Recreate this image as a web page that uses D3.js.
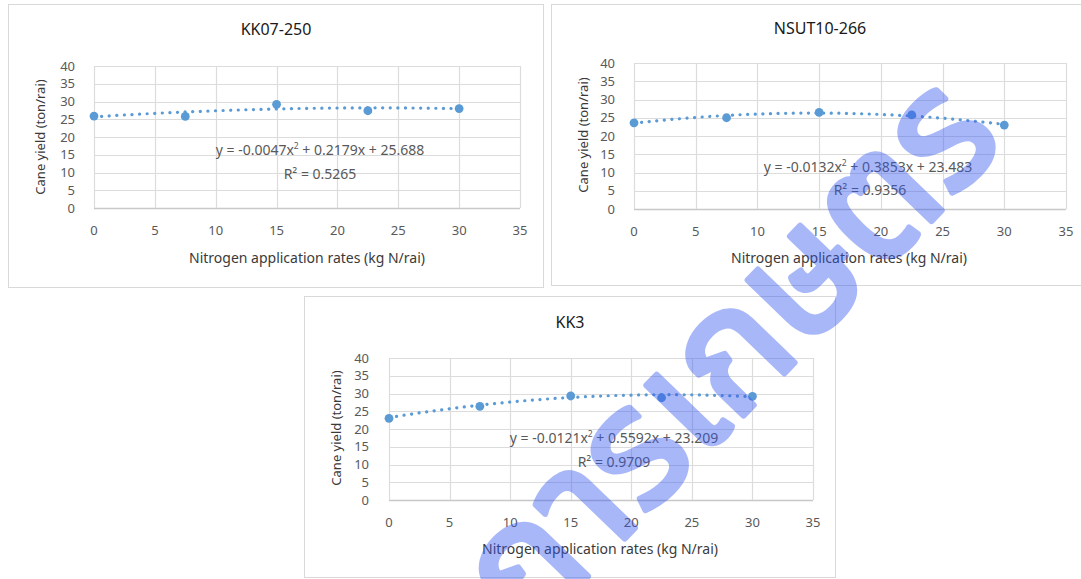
<!DOCTYPE html>
<html>
<head>
<meta charset="utf-8">
<script src="https://cdn.jsdelivr.net/npm/d3@7"></script>
<style>
  body { margin: 0; background: #fff; }
  svg { display: block; font-family: "Noto Sans", "Open Sans", sans-serif; }
</style>
</head>
<body>
<div id="chart"></div>
<script>
// nitrogen rates (kg N/rai)
var xRates = [0, 7.5, 15, 22.5, 30];

// cane yield (ton/rai) per variety
var yKK07 = [25.9, 25.8, 29.2, 27.4, 28.0];
var yNSUT = [23.6, 25.0, 26.5, 25.8, 23.0];
var yKK3  = [23.0, 26.4, 29.3, 28.8, 29.2];

var titles = ["KK07-250", "NSUT10-266", "KK3"];

// quadratic trendline coefficients [a, b, c] : y = a x^2 + b x + c
var coefKK07 = [-0.0047, 0.2179, 25.688];
var coefNSUT = [-0.0132, 0.3853, 23.483];
var coefKK3  = [-0.0121, 0.5592, 23.209];

var eqParts = [
  ["y = -0.0047x", " + 0.2179x + 25.688"],
  ["y = -0.0132x", " + 0.3853x + 23.483"],
  ["y = -0.0121x", " + 0.5592x + 23.209"]
];
var r2Labels = ["R² = 0.5265", "R² = 0.9356", "R² = 0.9709"];

var xTicks = [0, 5, 10, 15, 20, 25, 30, 35];
var yTicks = [0, 5, 10, 15, 20, 25, 30, 35, 40];

var xTitle = "Nitrogen application rates (kg N/rai)";
var yTitle = "Cane yield (ton/rai)";
var watermark = "การเกษตร";

var W = 1081, H = 579;
var svg = d3.select("#chart").append("svg").attr("width", W).attr("height", H);

// panel boxes and plot areas
var panels = [
  {box: [8, 4, 535, 283], plot: [94, 66, 520, 208], title: [276, 29], ylab: 75, xlab: 230, xt: [307, 258], yt: [40, 137],
   eq: [320, 150], r2: [320, 174], ys: yKK07, coef: coefKK07},
  {box: [551, 4, 540, 281], plot: [634, 63, 1066, 209], title: [820, 28], ylab: 615, xlab: 231, xt: [849, 258], yt: [583, 135],
   eq: [868, 167], r2: [870, 190], ys: yNSUT, coef: coefNSUT},
  {box: [304, 296, 531, 281], plot: [389, 358, 813, 500], title: [570, 322], ylab: 369, xlab: 522, xt: [600, 549], yt: [336, 428],
   eq: [614, 438], r2: [614, 462], ys: yKK3, coef: coefKK3}
];

var blue = "#5b9bd5";

panels.forEach(function(p, i) {
  var g = svg.append("g");

  g.append("rect")
    .attr("x", p.box[0] + 0.5).attr("y", p.box[1] + 0.5)
    .attr("width", p.box[2]).attr("height", p.box[3])
    .attr("fill", "#fff").attr("stroke", "#d9d9d9");

  var x = d3.scaleLinear().domain([0, 35]).range([p.plot[0], p.plot[2]]);
  var y = d3.scaleLinear().domain([0, 40]).range([p.plot[3], p.plot[1]]);

  // grid
  g.selectAll(".hg").data(yTicks).enter().append("line")
    .attr("x1", x(0)).attr("x2", x(35))
    .attr("y1", function(d) { return Math.round(y(d)) + 0.5; })
    .attr("y2", function(d) { return Math.round(y(d)) + 0.5; })
    .attr("stroke", function(d) { return d === 0 ? "#c8c8c8" : "#dcdcdc"; })
    .attr("stroke-width", function(d) { return d === 0 ? 1.5 : 1.2; });
  g.selectAll(".vg").data(xTicks).enter().append("line")
    .attr("y1", y(0)).attr("y2", y(40))
    .attr("x1", function(d) { return Math.round(x(d)) + 0.5; })
    .attr("x2", function(d) { return Math.round(x(d)) + 0.5; })
    .attr("stroke", "#dcdcdc").attr("stroke-width", 1.2);

  // tick labels
  g.selectAll(".yl").data(yTicks).enter().append("text")
    .attr("x", p.ylab).attr("y", function(d) { return y(d); })
    .attr("dy", "0.35em").attr("text-anchor", "end")
    .attr("font-size", 13).attr("fill", "#595959")
    .text(function(d) { return d; });
  g.selectAll(".xl").data(xTicks).enter().append("text")
    .attr("x", function(d) { return x(d); }).attr("y", p.xlab)
    .attr("dy", "0.35em").attr("text-anchor", "middle")
    .attr("font-size", 13).attr("fill", "#595959")
    .text(function(d) { return d; });

  // titles
  g.append("text").attr("x", p.title[0]).attr("y", p.title[1]).attr("dy", "0.35em")
    .attr("text-anchor", "middle").attr("font-size", 16).attr("fill", "#1a1a1a")
    .text(titles[i]);
  g.append("text").attr("x", p.xt[0]).attr("y", p.xt[1]).attr("dy", "0.35em")
    .attr("text-anchor", "middle").attr("font-size", 14).attr("fill", "#3a3a3a")
    .text(xTitle);
  g.append("text")
    .attr("transform", "translate(" + p.yt[0] + "," + p.yt[1] + ") rotate(-90)")
    .attr("dy", "0.35em").attr("text-anchor", "middle").attr("font-size", 13).attr("fill", "#3a3a3a")
    .text(yTitle);

  // trendline
  var c = p.coef;
  var curve = d3.range(0, 30.001, 0.5).map(function(t) { return [t, c[0] * t * t + c[1] * t + c[2]]; });
  g.append("path")
    .datum(curve)
    .attr("fill", "none").attr("stroke", blue)
    .attr("stroke-width", 3.2).attr("stroke-linecap", "round")
    .attr("stroke-dasharray", "0.1 7.5")
    .attr("d", d3.line().x(function(d) { return x(d[0]); }).y(function(d) { return y(d[1]); }));

  // points
  g.selectAll(".pt").data(xRates).enter().append("circle")
    .attr("cx", function(d) { return x(d); })
    .attr("cy", function(d, j) { return y(p.ys[j]); })
    .attr("r", 4.4).attr("fill", blue);

  // equation and R2
  var eq = g.append("text").attr("x", p.eq[0]).attr("y", p.eq[1]).attr("dy", "0.35em")
    .attr("text-anchor", "middle").attr("font-size", 14).attr("fill", "#595959");
  eq.append("tspan").text(eqParts[i][0]);
  eq.append("tspan").attr("dy", -6).attr("font-size", 8.5).text("2");
  eq.append("tspan").attr("dy", 6).text(eqParts[i][1]);
  g.append("text").attr("x", p.r2[0]).attr("y", p.r2[1]).attr("dy", "0.35em")
    .attr("text-anchor", "middle").attr("font-size", 14).attr("fill", "#595959")
    .text(r2Labels[i]);
});

// watermark
svg.append("text")
  .attr("transform", "translate(726,350) rotate(-46)")
  .attr("text-anchor", "middle").attr("dy", "0.35em")
  .attr("font-size", 166).attr("font-weight", "normal")
  .attr("font-family", "'Noto Sans Thai', Loma, Garuda, 'Tlwg Typo', Norasi, sans-serif")
  .attr("fill", "#3355ee").attr("stroke", "#3355ee").attr("stroke-width", 6)
  .attr("stroke-linejoin", "round").attr("opacity", 0.42)
  .text(watermark);
</script>
</body>
</html>
